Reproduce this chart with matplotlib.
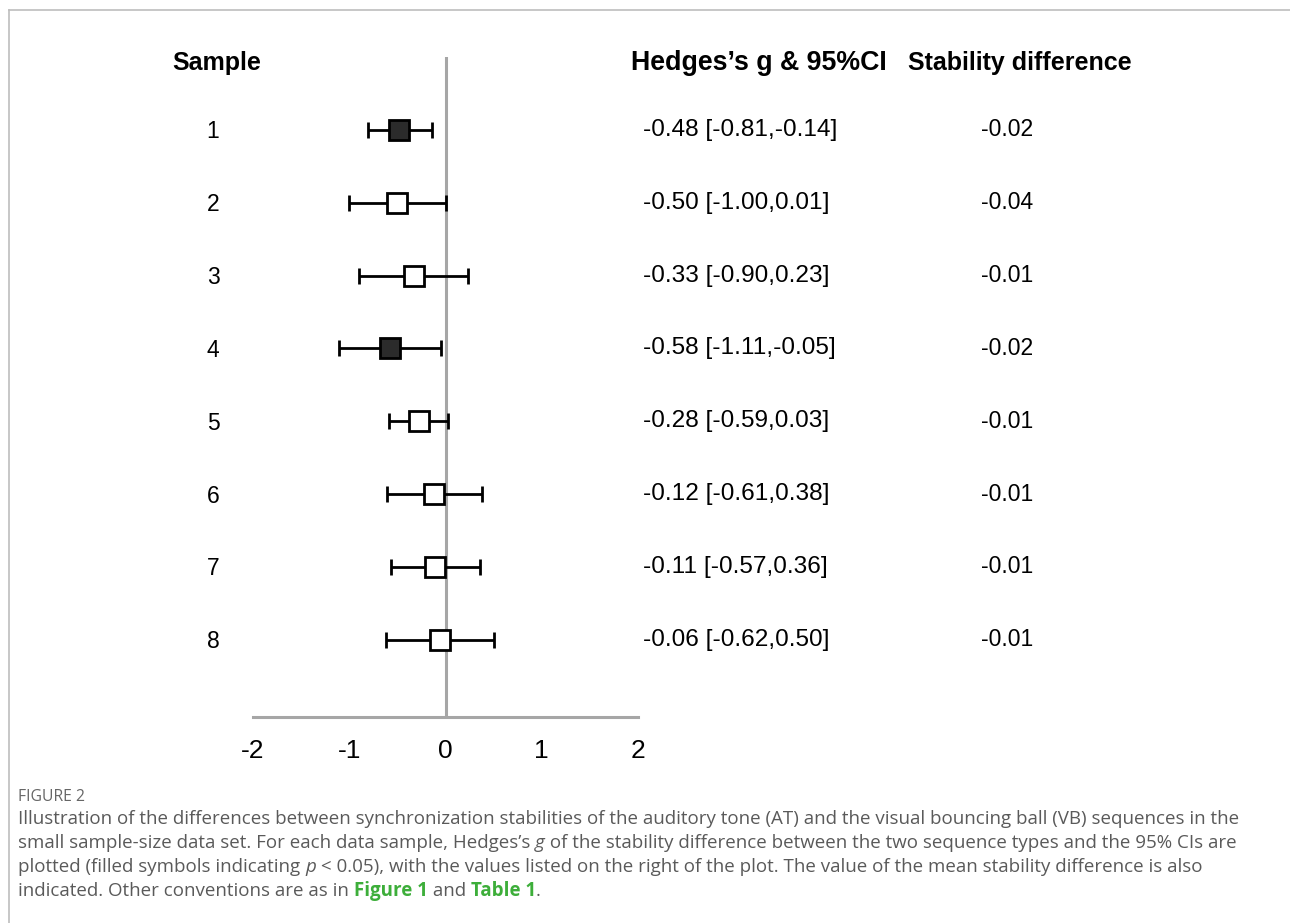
import numpy as np
import matplotlib.pyplot as plt
from matplotlib.lines import Line2D

# forest plot data (Hedges's g and 95% CI per sample)
samples = ['1', '2', '3', '4', '5', '6', '7', '8']
g = [-0.48, -0.50, -0.33, -0.58, -0.28, -0.12, -0.11, -0.06]
ci_low = [-0.81, -1.00, -0.90, -1.11, -0.59, -0.61, -0.57, -0.62]
ci_high = [-0.14, 0.01, 0.23, -0.05, 0.03, 0.38, 0.36, 0.50]
significant = [True, False, False, True, False, False, False, False]
stab_diff = ['-0.02', '-0.04', '-0.01', '-0.02', '-0.01', '-0.01', '-0.01', '-0.01']
xticks = [-2, -1, 0, 1, 2]

W, H = 1290, 923
fig = plt.figure(figsize=(W / 100, H / 100), dpi=100)

def fx(px):
    return px / W

def fy(py):
    return 1 - py / H

# frame lines of the page
fig.add_artist(Line2D([fx(9), fx(W)], [fy(10), fy(10)], color='#bdbdbd', lw=1.2))
fig.add_artist(Line2D([fx(9), fx(9)], [fy(10), 0], color='#bdbdbd', lw=1.2))

ax = fig.add_axes([fx(253), fy(717), fx(638) - fx(253), fy(57) - fy(717)])
ypos = np.arange(1, len(samples) + 1)
ax.set_xlim(-2, 2)
ax.set_ylim(9.06, 0)

grey = '#a6a6a6'
ax.axvline(0, color=grey, lw=2.2, zorder=1)
for s in ['top', 'right', 'left']:
    ax.spines[s].set_visible(False)
ax.spines['bottom'].set_color(grey)
ax.spines['bottom'].set_linewidth(2.2)
ax.set_yticks([])
ax.set_xticks(xticks)
ax.set_xticklabels([str(t) for t in xticks], fontsize=19, family='Liberation Sans')
ax.tick_params(axis='x', length=0, pad=16)

lo = np.array(g) - np.array(ci_low)
hi = np.array(ci_high) - np.array(g)
ax.errorbar(g, ypos, xerr=[lo, hi], fmt='none', ecolor='black', elinewidth=2.0,
             capsize=5.5, capthick=2.0, zorder=2)
for gi, yi, sig in zip(g, ypos, significant):
    ax.plot(gi, yi, marker='s', markersize=14.5, markerfacecolor='#2b2b2b' if sig else 'white',
            markeredgecolor='black', markeredgewidth=2.0, zorder=3)

# header and table text
hfont = dict(family='Liberation Sans', weight='bold', color='black')
fig.text(fx(172), fy(63), 'Sample', va='center', ha='left', fontsize=18, **hfont)
fig.text(fx(631), fy(63), 'Hedges\u2019s g & 95%CI', va='center', ha='left', fontsize=19.3, **hfont)
fig.text(fx(908), fy(63), 'Stability difference', va='center', ha='left', fontsize=18, **hfont)

for i, s in enumerate(samples):
    yp = ax.transData.transform((0, ypos[i]))[1] / H
    fig.text(fx(213), yp - 2 / H, s, ha='center', va='center', fontsize=16.5, family='Liberation Sans')
    txt = '%.2f [%.2f,%.2f]' % (g[i], ci_low[i], ci_high[i])
    fig.text(fx(643), yp, txt, ha='left', va='center', fontsize=17.6, family='Liberation Sans')
    fig.text(fx(1007), yp, stab_diff[i], ha='center', va='center', fontsize=16.5, family='Liberation Sans')

# caption
fig.text(fx(18), fy(797), 'FIGURE 2', ha='left', va='center', fontsize=11.3, color='#666666',
         family='Open Sans')

renderer = fig.canvas.get_renderer()
fs = 13.48
cap = dict(fontsize=fs, color='#5a5a5a', family='Open Sans')
green = dict(fontsize=fs, color='#3dae3a', family='Open Sans', weight='bold')
ital = dict(fontsize=fs, color='#5a5a5a', family='Open Sans', style='italic')

lines = [
    [('Illustration of the differences between synchronization stabilities of the auditory tone (AT) and the visual bouncing ball (VB) sequences in the', cap)],
    [('small sample-size data set. For each data sample, Hedges\u2019s ', cap), ('g', ital),
     (' of the stability difference between the two sequence types and the 95% CIs are', cap)],
    [('plotted (filled symbols indicating ', cap), ('p', ital),
     (' < 0.05), with the values listed on the right of the plot. The value of the mean stability difference is also', cap)],
    [('indicated. Other conventions are as in ', cap), ('Figure 1', green), (' and ', cap),
     ('Table 1', green), ('.', cap)],
]
for k, runs in enumerate(lines):
    x = 18
    y = fy(819 + k * 24)
    for s, kw in runs:
        t = fig.text(fx(x), y, s, ha='left', va='center', **kw)
        x += t.get_window_extent(renderer).width

fig.savefig('out.png', dpi=100)
